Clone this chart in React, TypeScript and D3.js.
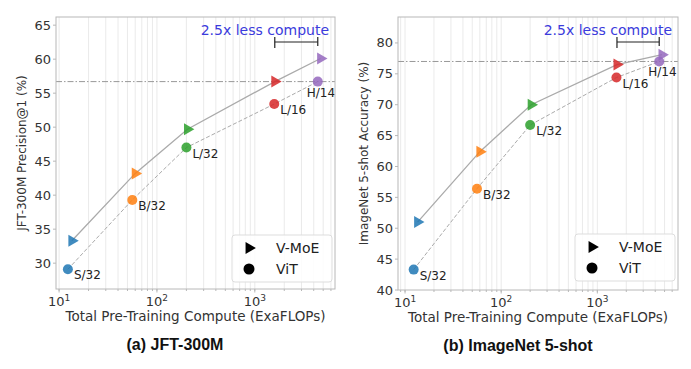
import * as d3 from "d3";

const models = ["S/32", "B/32", "L/32", "L/16", "H/14"];
const colors = ["#1f77b4", "#ff7f0e", "#2ca02c", "#d62728", "#9467bd"];
const vmoeCompute = [13.5, 60, 205, 1600, 4700];
const vitCompute = [12.3, 56, 200, 1580, 4400];
const jftVmoe = [33.3, 43.2, 49.7, 56.7, 60.1];
const jftVit = [29.1, 39.3, 47.0, 53.4, 56.7];
const inetVmoe = [51.0, 62.4, 70.0, 76.5, 78.1];
const inetVit = [43.3, 56.4, 66.7, 74.4, 77.0];
const jftTicks = [30, 35, 40, 45, 50, 55, 60, 65];
const inetTicks = [40, 45, 50, 55, 60, 65, 70, 75, 80];

const FONT = "DejaVu Sans, sans-serif";

interface PanelProps {
  left: number;
  right: number;
  top: number;
  bottom: number;
  xDomain: [number, number];
  yDomain: [number, number];
  yTicks: number[];
  vmoe: number[];
  vit: number[];
  yLabel: string;
  title: string;
  titleX: number;
  legendX: number;
  legendY: number;
}

function Panel(p: PanelProps) {
  const x = d3.scaleLog().domain(p.xDomain).range([p.left, p.right]);
  const y = d3.scaleLinear().domain(p.yDomain).range([p.bottom, p.top]);
  const grid: number[] = [];
  for (const dec of [1, 10, 100, 1000]) for (let k = 1; k < 10; k++) {
    const v = dec * k;
    if (v >= p.xDomain[0] && v <= p.xDomain[1]) grid.push(v);
  }
  const vmoeLine = d3.line<number>().x((_, i) => x(vmoeCompute[i])).y(d => y(d))(p.vmoe)!;
  const vitLine = d3.line<number>().x((_, i) => x(vitCompute[i])).y(d => y(d))(p.vit)!;
  const tri = d3.symbol().type(d3.symbolTriangle).size(62)()!;
  const refY = y(p.vit[4]);
  const barY = y(p.yDomain[1]) + 25;
  const bx0 = x(vmoeCompute[3]);
  const bx1 = x(vitCompute[4]);
  const cx = (p.left + p.right) / 2;
  return (
    <g>
      {grid.map(v => (
        <line key={v} x1={x(v)} x2={x(v)} y1={p.top} y2={p.bottom} stroke="#e4e4e4" strokeWidth={0.8} />
      ))}
      <line x1={p.left} x2={p.right} y1={refY} y2={refY} stroke="#999" strokeWidth={1} strokeDasharray="6,2,1.5,2" />
      <path d={vmoeLine} fill="none" stroke="#aaa" strokeWidth={1.3} />
      <path d={vitLine} fill="none" stroke="#aaa" strokeWidth={1} strokeDasharray="4,2" />
      {p.vmoe.map((v, i) => (
        <path key={"t" + i} d={tri} transform={`translate(${x(vmoeCompute[i])},${y(v)}) rotate(90)`} fill={colors[i]} opacity={0.85} />
      ))}
      {p.vit.map((v, i) => (
        <circle key={"c" + i} cx={x(vitCompute[i])} cy={y(v)} r={5} fill={colors[i]} opacity={0.85} />
      ))}
      {p.vit.map((v, i) => (
        <text key={"l" + i} x={x(vitCompute[i]) + (i === 4 ? -11 : 6)} y={y(v) + (i === 4 ? 15 : 10)}
          fontSize={12} fontFamily={FONT} fill="#222">{models[i]}</text>
      ))}
      {/* annotation */}
      <line x1={bx0} x2={bx1} y1={barY} y2={barY} stroke="#222" strokeWidth={1.2} />
      <line x1={bx0} x2={bx0} y1={barY - 5} y2={barY + 6} stroke="#222" strokeWidth={1.2} />
      <line x1={bx1} x2={bx1} y1={barY - 5} y2={barY + 4} stroke="#222" strokeWidth={1.2} />
      <text x={p.right - 6} y={barY - 7} textAnchor="end" fontSize={14} fontFamily={FONT} fill="#3b3bdc">2.5x less compute</text>
      {/* frame */}
      <rect x={p.left} y={p.top} width={p.right - p.left} height={p.bottom - p.top} fill="none" stroke="#b8b8b8" strokeWidth={1} />
      {/* y ticks */}
      {p.yTicks.map(t => (
        <g key={t}>
          <line x1={p.left - 3} x2={p.left} y1={y(t)} y2={y(t)} stroke="#b8b8b8" />
          <text x={p.left - 5} y={y(t) + 4.5} textAnchor="end" fontSize={13} fontFamily={FONT} fill="#333">{t}</text>
        </g>
      ))}
      {/* x ticks */}
      {grid.map(v => (
        <line key={"m" + v} x1={x(v)} x2={x(v)} y1={p.bottom} y2={p.bottom + 2} stroke="#b8b8b8" />
      ))}
      {[10, 100, 1000].map((t, i) => (
        <g key={t}>
          <line x1={x(t)} x2={x(t)} y1={p.bottom} y2={p.bottom + 3.5} stroke="#b8b8b8" />
          <text x={x(t)} y={p.bottom + 17} textAnchor="middle" fontSize={13} fontFamily={FONT} fill="#333">
            10<tspan dy={-5} fontSize={9}>{i + 1}</tspan>
          </text>
        </g>
      ))}
      <text x={cx} y={p.bottom + 32} textAnchor="middle" fontSize={13.5} fontFamily={FONT} fill="#333">Total Pre-Training Compute (ExaFLOPs)</text>
      <text transform={`translate(${p.left - 30},${(p.top + p.bottom) / 2}) rotate(-90)`} textAnchor="middle" fontSize={12} fontFamily={FONT} fill="#333">{p.yLabel}</text>
      <text x={p.titleX} y={p.bottom + 61} textAnchor="middle" fontSize={16} fontWeight="bold" fontFamily="Liberation Sans, Arial, sans-serif" fill="#111">{p.title}</text>
      {/* legend */}
      <rect x={p.legendX} y={p.legendY} width={p.right - p.legendX - 3} height={47} rx={3} fill="#fff" fillOpacity={0.85} stroke="#ddd" />
      <path d={tri} transform={`translate(${p.legendX + 17},${p.legendY + 13}) rotate(90)`} fill="#000" />
      <circle cx={p.legendX + 17} cy={p.legendY + 34} r={5.5} fill="#000" />
      <text x={p.legendX + 44} y={p.legendY + 18} fontSize={14} fontFamily={FONT} fill="#222">V-MoE</text>
      <text x={p.legendX + 44} y={p.legendY + 39} fontSize={14} fontFamily={FONT} fill="#222">ViT</text>
    </g>
  );
}

export default function App() {
  return (
    <svg width={691} height={369} style={{ position: "absolute", left: 0, top: 0, background: "#fff" }}>
      <Panel left={56} right={335} top={17} bottom={289} xDomain={[9.3, 6600]} yDomain={[26.2, 66.2]}
        yTicks={jftTicks} vmoe={jftVmoe} vit={jftVit} yLabel="JFT-300M Precision@1 (%)" title="(a) JFT-300M"
        titleX={175} legendX={232} legendY={235} />
      <Panel left={398} right={678} top={17} bottom={290} xDomain={[8.45, 6900]} yDomain={[40, 84.2]}
        yTicks={inetTicks} vmoe={inetVmoe} vit={inetVit} yLabel="ImageNet 5-shot Accuracy (%)" title="(b) ImageNet 5-shot"
        titleX={518} legendX={575} legendY={234} />
    </svg>
  );
}
